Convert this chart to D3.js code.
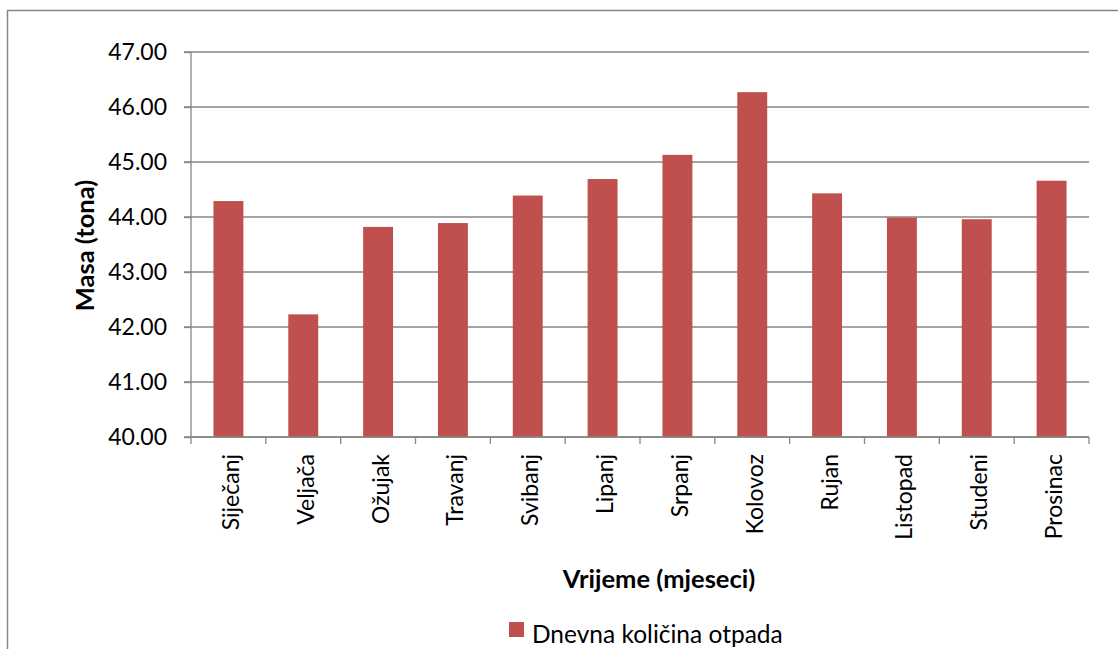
<!DOCTYPE html>
<html><head><meta charset="utf-8">
<script src="https://cdn.jsdelivr.net/npm/d3@7"></script>
<style>html,body{margin:0;padding:0;background:#fff;} svg{display:block;font-family:Lato,"Open Sans",sans-serif;}</style>
</head><body>
<svg id="c" width="1118" height="649"></svg>
<script>
const months = ["Siječanj","Veljača","Ožujak","Travanj","Svibanj","Lipanj","Srpanj","Kolovoz","Rujan","Listopad","Studeni","Prosinac"];
const values = [44.29,42.23,43.82,43.89,44.39,44.69,45.13,46.27,44.43,43.99,43.96,44.66];
const yTicks = [40,41,42,43,44,45,46,47];
const seriesName = "Dnevna količina otpada";
const xTitle = "Vrijeme (mjeseci)";
const yTitle = "Masa (tona)";

const svg = d3.select("#c");
const m = {l:191, r:1089, t:52, b:437};
const grey = "#868686", barColor = "#C0504D";

svg.append("rect").attr("x",7.5).attr("y",10.5).attr("width",1200).attr("height",700)
  .attr("fill","none").attr("stroke",grey).attr("stroke-width",1.5);

const x = d3.scaleBand().domain(months).range([m.l,m.r]).paddingInner(0.6).paddingOuter(0.3);
const y = d3.scaleLinear().domain([40,47]).range([m.b,m.t]);

// gridlines
svg.append("g").selectAll("line").data(yTicks).join("line")
  .attr("x1",m.l-7).attr("x2",m.r).attr("y1",d=>y(d)).attr("y2",d=>y(d))
  .attr("stroke",grey).attr("stroke-width",1.3);

// bars
svg.append("g").selectAll("rect").data(values).join("rect")
  .attr("x",(d,i)=>x(months[i])).attr("width",x.bandwidth())
  .attr("y",d=>y(d)).attr("height",d=>y(40)-y(d)).attr("fill",barColor);

// y axis
const yAxis = d3.axisLeft(y).tickValues(yTicks).tickFormat(d3.format(".2f")).tickSize(7).tickPadding(17);
const gy = svg.append("g").attr("transform",`translate(${m.l},0)`).call(yAxis);
gy.select(".domain").attr("stroke",grey).attr("stroke-width",1.3).attr("d",`M0,${m.t}V${m.b}`);
gy.selectAll(".tick line").attr("stroke",grey).attr("stroke-width",1.3);
gy.selectAll("text").attr("font-size",23).attr("fill","#000").attr("font-family","Lato");

// x axis
const step = x.step();
const bounds = d3.range(months.length+1).map(i=>m.l+i*step);
svg.append("line").attr("x1",m.l).attr("x2",m.r).attr("y1",m.b).attr("y2",m.b).attr("stroke",grey).attr("stroke-width",1.3);
svg.append("g").selectAll("line").data(bounds).join("line")
  .attr("x1",d=>d).attr("x2",d=>d).attr("y1",m.b).attr("y2",m.b+7).attr("stroke",grey).attr("stroke-width",1.3);
svg.append("g").selectAll("text").data(months).join("text")
  .attr("transform",d=>`translate(${x(d)+x.bandwidth()/2+10.5},${m.b+17}) rotate(-90)`)
  .attr("text-anchor","end").attr("font-size",23).attr("fill","#000").text(d=>d);

// titles
svg.append("text").attr("x",659).attr("y",588).attr("text-anchor","middle")
  .attr("font-size",25.5).attr("font-weight","bold").text(xTitle);
svg.append("text").attr("transform",`translate(${94},${245.5}) rotate(-90)`)
  .attr("text-anchor","middle").attr("font-size",25.5).attr("font-weight","bold").text(yTitle);

// legend
const lg = svg.append("g");
lg.append("rect").attr("x",509).attr("y",622).attr("width",15).attr("height",15).attr("fill",barColor);
lg.append("text").attr("x",532).attr("y",643).attr("font-size",24.5).text(seriesName);
</script>
</body></html>
